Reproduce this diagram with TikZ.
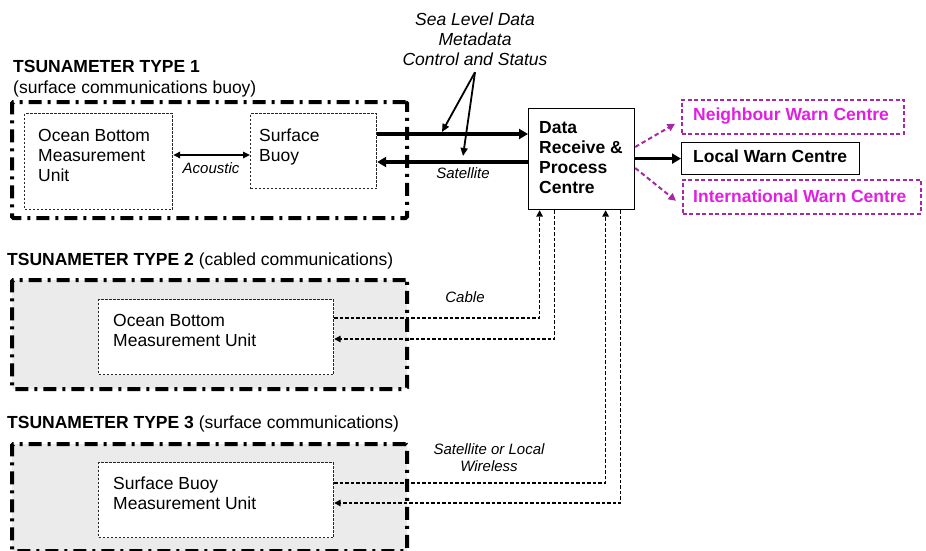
\documentclass[tikz,border=0pt]{standalone}
\usepackage{fontspec}
\setmainfont{Liberation Sans}
\usetikzlibrary{arrows.meta,calc}
\definecolor{shade}{RGB}{235,235,235}
\definecolor{magtext}{RGB}{226,30,226}
\definecolor{magline}{RGB}{165,40,165}
% stacked lines whose baseline is the first line
\newcommand{\rows}[2][l]{\begin{tabular}[t]{@{}#1@{}}#2\end{tabular}}
\tikzset{
  txt/.style={inner sep=0pt, font=\fontsize{17.5}{20}\selectfont, anchor=base west},
  hdr/.style={txt, font=\fontsize{17.5}{20}\selectfont\bfseries},
  bigital/.style={inner sep=0pt, font=\fontsize{17.5}{20}\selectfont\itshape, anchor=base},
  note/.style={inner sep=0pt, font=\fontsize{15}{17}\selectfont\itshape, anchor=base},
  tgroup/.style={draw, line width=4pt, dash pattern=on 13pt off 6pt on 3pt off 6pt,
    rounded corners=1.5pt, anchor=north west, inner sep=0pt},
  tunit/.style={draw=black!85, line width=1.2pt, dash pattern=on 2.5pt off 1.5pt,
    anchor=north west, inner sep=0pt},
  dcbox/.style={draw, line width=1.2pt, anchor=north west, inner sep=0pt},
  rcbox/.style={draw=magline, line width=1.6pt, dash pattern=on 4pt off 2.5pt,
    anchor=north west, inner sep=0pt},
  satlink/.style={line width=3.4pt, -{Triangle[length=9pt,width=10pt]}},
  callout/.style={line width=1.8pt, -{Triangle[length=8pt,width=7pt]}},
  acoustic/.style={line width=1.6pt, {Triangle[length=7pt,width=6.5pt]}-{Triangle[length=7pt,width=6.5pt]}},
  cablelink/.style={line width=1.5pt, dash pattern=on 3.5pt off 2pt, -{Triangle[length=6.5pt,width=6.5pt]}},
  relaylink/.style={magline, line width=2pt, dash pattern=on 4.5pt off 3pt, -{Triangle[length=7.5pt,width=7.5pt]}}
}
\begin{document}
\begin{tikzpicture}[x=1pt,y=-1pt]
\useasboundingbox (0,0) rectangle (926,551);

% group headings
\node[hdr] (h1) at (13,73) {TSUNAMETER TYPE 1};
\node[txt] (h1s) at (13,93) {(surface communications buoy)};
\node[txt] (h2) at (7,265) {\textbf{TSUNAMETER TYPE 2} (cabled communications)};
\node[txt] (h3) at (7,428) {\textbf{TSUNAMETER TYPE 3} (surface communications)};

% group frames
\node[tgroup, minimum width=395pt, minimum height=116pt] (g1) at (10,100) {};
\node[tgroup, fill=shade, minimum width=395pt, minimum height=109pt] (g2) at (10,278) {};
\node[tgroup, fill=shade, minimum width=395pt, minimum height=107pt] (g3) at (10,442) {};

% type 1 units
\node[tunit, minimum width=148pt, minimum height=96pt] (obu1) at (24,113) {};
\node[txt] (obu1t) at (38,141) {\rows{Ocean Bottom\\Measurement\\Unit}};
\node[tunit, minimum width=126pt, minimum height=75pt] (sb1) at (250,113) {};
\node[txt] (sb1t) at (259,141) {\rows{Surface\\Buoy}};

% type 2 and 3 units
\node[tunit, fill=white, minimum width=235pt, minimum height=75pt] (obu2) at (98,299) {};
\node[txt] (obu2t) at (113,326) {\rows{Ocean Bottom\\Measurement Unit}};
\node[tunit, fill=white, minimum width=235pt, minimum height=75pt] (sbu3) at (98,462) {};
\node[txt] (sbu3t) at (113,489) {\rows{Surface Buoy\\Measurement Unit}};

% data centre
\node[dcbox, minimum width=106pt, minimum height=101pt] (dc) at (528,108) {};
\node[hdr] (dct) at (539,133) {\rows{Data\\Receive \&\\Process\\Centre}};

% warning centres
\node[dcbox, minimum width=178pt, minimum height=32pt] (lwc) at (681,142) {};
\node[hdr] (lwct) at (693,162) {Local Warn Centre};
\node[rcbox, minimum width=222pt, minimum height=34pt] (nwc) at (681,99) {};
\node[hdr, text=magtext] (nwct) at (693,120) {Neighbour Warn Centre};
\node[rcbox, minimum width=238pt, minimum height=34pt] (iwc) at (682,179) {};
\node[hdr, text=magtext] (iwct) at (693,202) {International Warn Centre};

% helper levels
\coordinate (yAc) at (0,155);
\coordinate (yUp) at (0,134);
\coordinate (yDown) at (0,162);
\coordinate (yN) at (0,147);
\coordinate (yI) at (0,168);
\coordinate (yC1) at (0,318);
\coordinate (yC2) at (0,339);
\coordinate (yW1) at (0,483);
\coordinate (yW2) at (0,503);
\coordinate (hitA) at (442,132);
\coordinate (hitB) at (463,156);

% type 1 links
\draw[acoustic] (obu1.east |- yAc) -- (sb1.west |- yAc);
\node[note] (ac) at (211,173) {Acoustic};
\draw[satlink] (sb1.east |- yUp) -- (dc.west |- yUp);
\draw[satlink] (dc.west |- yDown) -- (sb1.east |- yDown);
\node[note] (sat) at (463,178) {Satellite};

% data description
\node[bigital] (sl) at (475,26) {\rows[c]{Sea Level Data\\Metadata\\Control and Status}};
\draw[callout] (sl.south) -- (hitA);
\draw[callout] (sl.south) -- (hitB);

% outgoing warnings
\draw[satlink] (dc.east |- lwc.west) -- (lwc.west);
\draw[relaylink] (dc.east |- yN) -- ($(nwc.west)+(-6,7)$);
\draw[relaylink] (dc.east |- yI) -- ($(iwc.west)+(-6,4)$);

% type 2 cable
\draw[cablelink] (obu2.east |- yC1) -| ($(dc.south)+(-42,0)$);
\draw[cablelink] ($(dc.south)+(-27,0)$) |- (obu2.east |- yC2);
\node[note] (cab) at (465,302) {Cable};

% type 3 wireless
\draw[cablelink] (sbu3.east |- yW1) -| ($(dc.south)+(24,0)$);
\draw[cablelink] ($(dc.south)+(39,0)$) |- (sbu3.east |- yW2);
\node[note] (wl) at (489,454) {\rows[c]{Satellite or Local\\Wireless}};
\end{tikzpicture}
\end{document}
